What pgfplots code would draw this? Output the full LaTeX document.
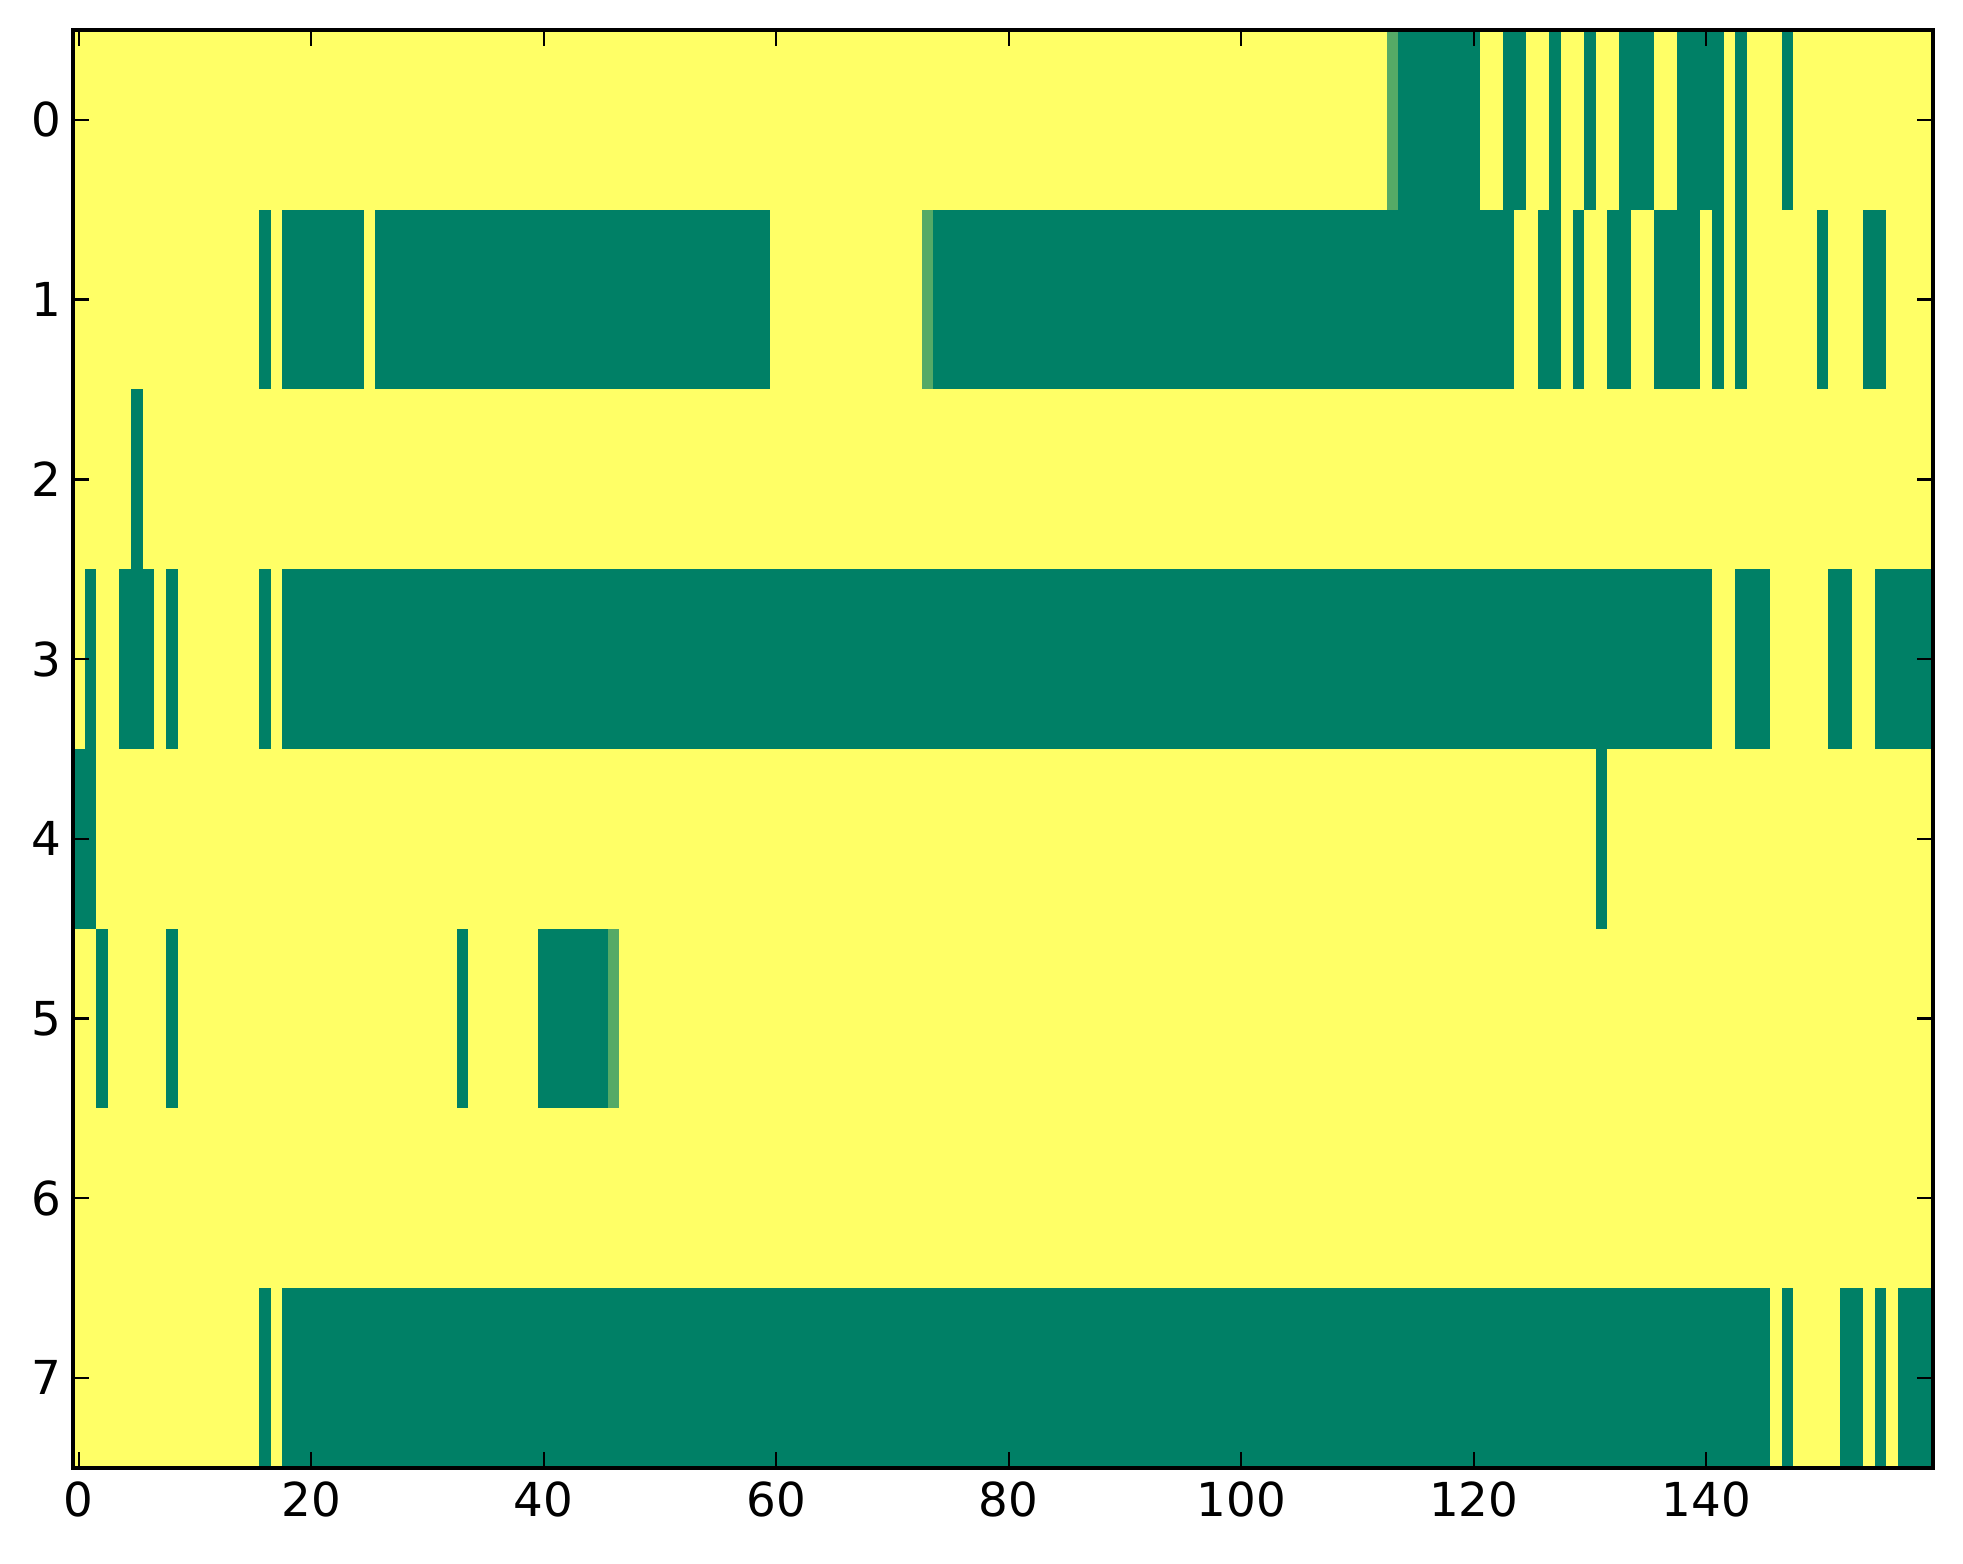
\documentclass[border=0pt]{standalone}
\usepackage{fontspec}
\setmainfont{DejaVu Sans}
\usepackage{pgfplots}
\pgfplotsset{compat=1.18}
\definecolor{sgreen}{RGB}{0,128,102}
\definecolor{syellow}{RGB}{255,255,102}
\definecolor{slight}{RGB}{85,170,102}
% one filled cell run: x from #1 to #2, y from #3 to #4, colour #5
\newcommand{\run}[5]{\addplot[fill=#5, draw=none, forget plot] coordinates {(#1,#3) (#2,#3) (#2,#4) (#1,#4)} -- cycle;}
\begin{document}
\begin{tikzpicture}
\useasboundingbox (-18.7pt,-24.6pt) rectangle (484.7pt,376.4pt);
\begin{axis}[at={(0,0)}, anchor=south west, scale only axis,
  width=477pt, height=368.7pt,
  xmin=-0.5, xmax=159.5, ymin=-0.5, ymax=7.5, y dir=reverse,
  xtick={0,20,...,140}, ytick={0,1,...,7},
  tick align=inside, major tick length=4pt,
  axis line style={line width=1pt},
  every tick/.style={black, line width=0.6pt},
  axis background/.style={fill=syellow},
  axis on top,
  tick label style={font=\fontsize{12}{14.4}\selectfont},
  /pgf/number format/assume math mode=true,
  yticklabel style={xshift=0.5pt},
]
% row 0
\run{112.5}{113.5}{-0.5}{0.5}{slight}
\run{113.5}{120.5}{-0.5}{0.5}{sgreen}
\run{122.5}{124.5}{-0.5}{0.5}{sgreen}
\run{126.5}{127.5}{-0.5}{0.5}{sgreen}
\run{129.5}{130.5}{-0.5}{0.5}{sgreen}
\run{132.5}{135.5}{-0.5}{0.5}{sgreen}
\run{137.5}{141.5}{-0.5}{0.5}{sgreen}
\run{142.5}{143.5}{-0.5}{0.5}{sgreen}
\run{146.5}{147.5}{-0.5}{0.5}{sgreen}
% row 1
\run{15.5}{16.5}{0.5}{1.5}{sgreen}
\run{17.5}{24.5}{0.5}{1.5}{sgreen}
\run{25.5}{59.5}{0.5}{1.5}{sgreen}
\run{72.5}{73.5}{0.5}{1.5}{slight}
\run{73.5}{123.5}{0.5}{1.5}{sgreen}
\run{125.5}{127.5}{0.5}{1.5}{sgreen}
\run{128.5}{129.5}{0.5}{1.5}{sgreen}
\run{131.5}{133.5}{0.5}{1.5}{sgreen}
\run{135.5}{139.5}{0.5}{1.5}{sgreen}
\run{140.5}{141.5}{0.5}{1.5}{sgreen}
\run{142.5}{143.5}{0.5}{1.5}{sgreen}
\run{149.5}{150.5}{0.5}{1.5}{sgreen}
\run{153.5}{155.5}{0.5}{1.5}{sgreen}
% row 2
\run{4.5}{5.5}{1.5}{2.5}{sgreen}
% row 3
\run{0.5}{1.5}{2.5}{3.5}{sgreen}
\run{3.5}{6.5}{2.5}{3.5}{sgreen}
\run{7.5}{8.5}{2.5}{3.5}{sgreen}
\run{15.5}{16.5}{2.5}{3.5}{sgreen}
\run{17.5}{140.5}{2.5}{3.5}{sgreen}
\run{142.5}{145.5}{2.5}{3.5}{sgreen}
\run{150.5}{152.5}{2.5}{3.5}{sgreen}
\run{154.5}{159.5}{2.5}{3.5}{sgreen}
% row 4
\run{-0.5}{1.5}{3.5}{4.5}{sgreen}
\run{130.5}{131.5}{3.5}{4.5}{sgreen}
% row 5
\run{1.5}{2.5}{4.5}{5.5}{sgreen}
\run{7.5}{8.5}{4.5}{5.5}{sgreen}
\run{32.5}{33.5}{4.5}{5.5}{sgreen}
\run{39.5}{45.5}{4.5}{5.5}{sgreen}
\run{45.5}{46.5}{4.5}{5.5}{slight}
% row 7
\run{15.5}{16.5}{6.5}{7.5}{sgreen}
\run{17.5}{145.5}{6.5}{7.5}{sgreen}
\run{146.5}{147.5}{6.5}{7.5}{sgreen}
\run{151.5}{153.5}{6.5}{7.5}{sgreen}
\run{154.5}{155.5}{6.5}{7.5}{sgreen}
\run{156.5}{159.5}{6.5}{7.5}{sgreen}
\end{axis}
\end{tikzpicture}
\end{document}
